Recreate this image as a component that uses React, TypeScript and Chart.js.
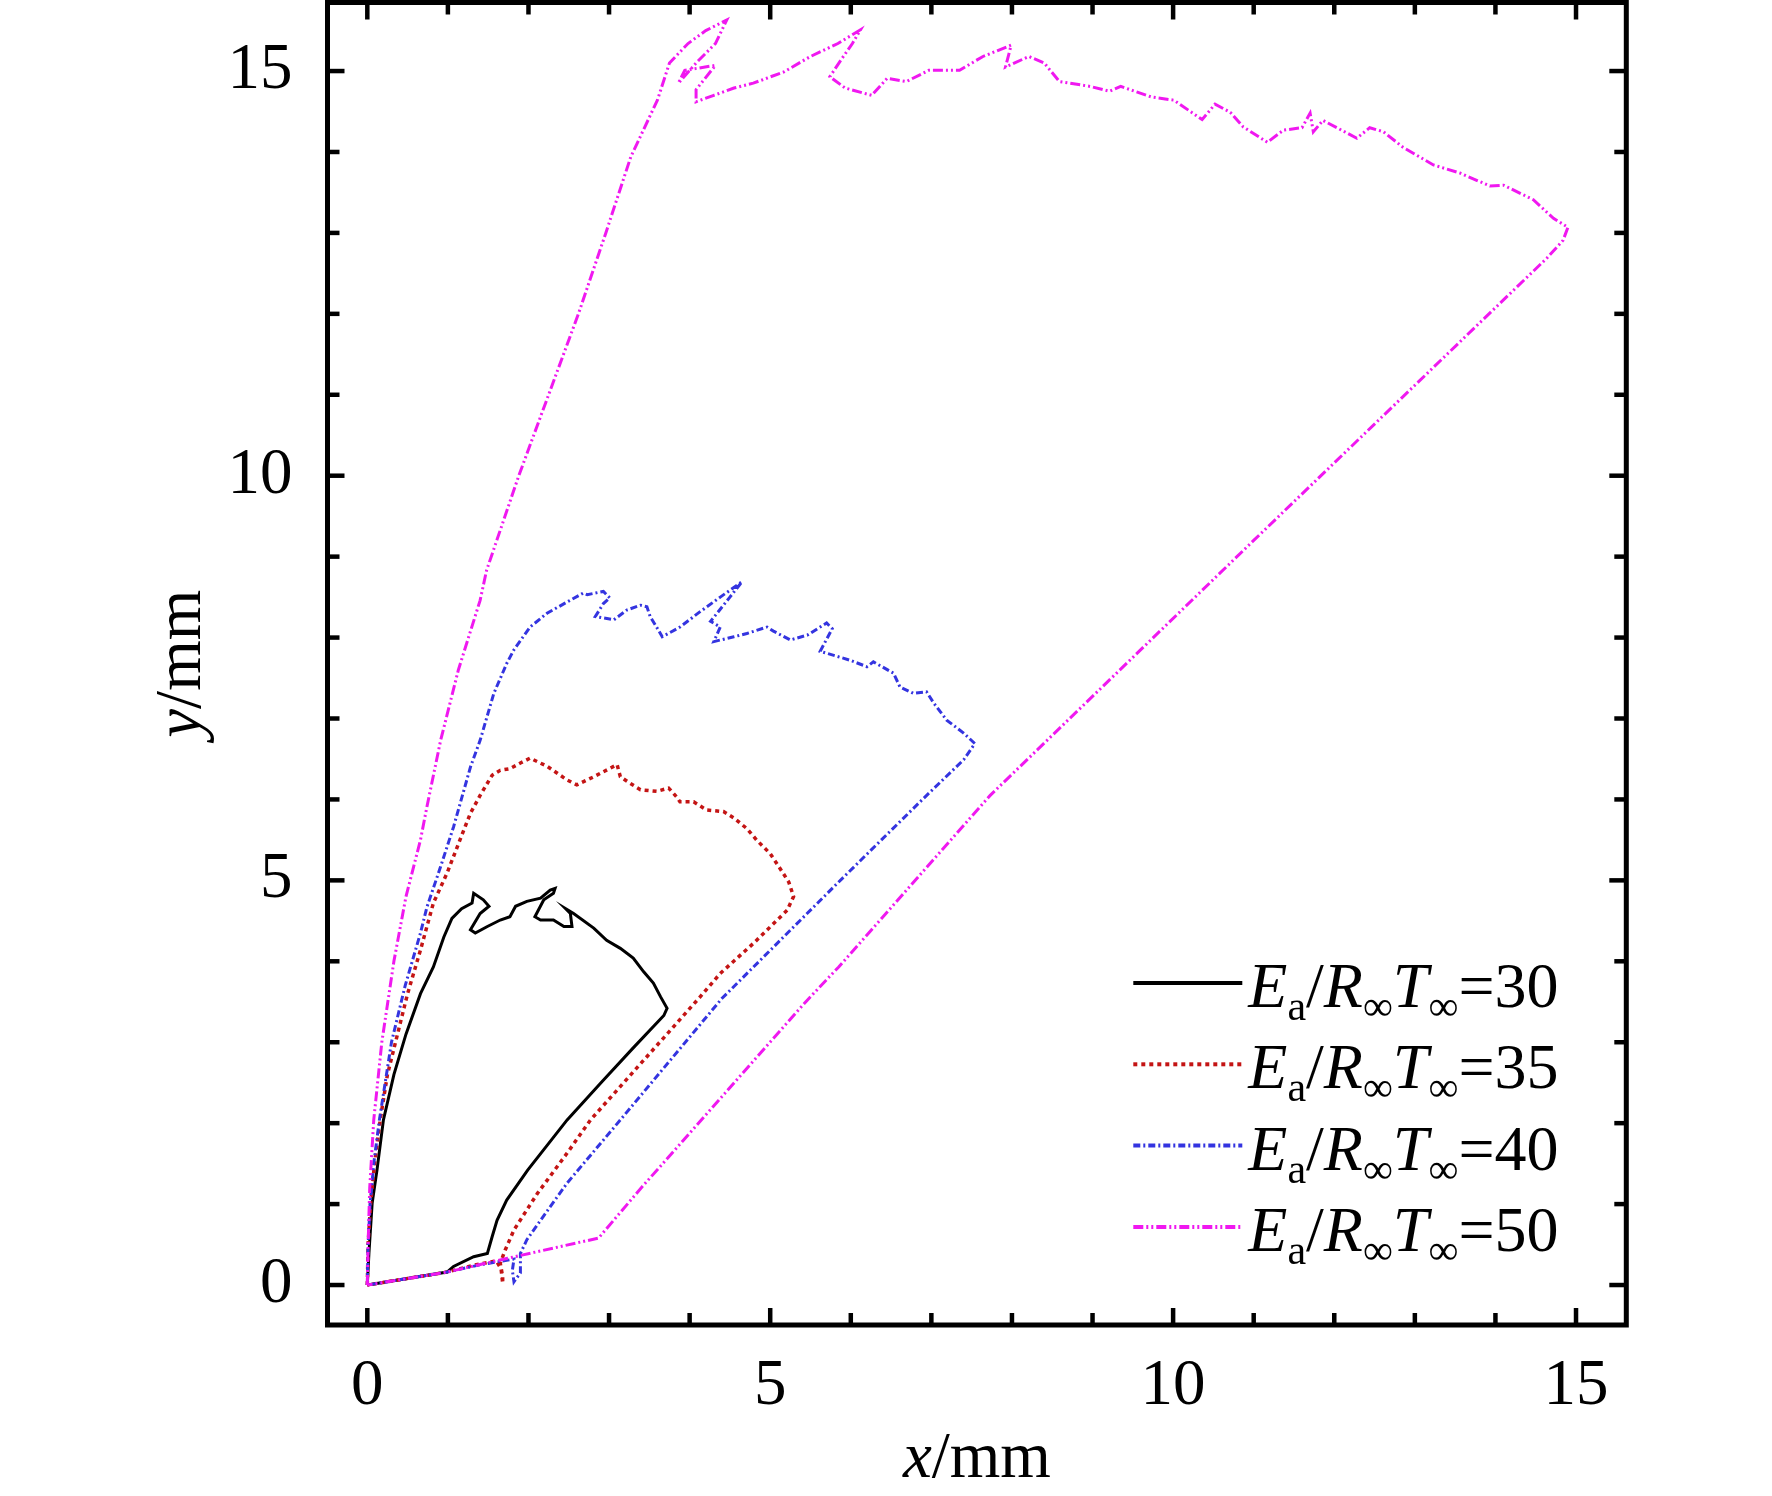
import React, { useEffect, useRef } from "react";
import { Chart, registerables } from "chart.js";

Chart.register(...registerables);

const FONT = "'Liberation Serif', 'Times New Roman', Times, serif";

// ---- data (x/mm, y/mm) ----
const seriesValues = ["30", "35", "40", "50"];
const seriesColors = ["#000000", "#c41414", "#3434e0", "#f018f0"];

const curve30: [number, number][] = [
  [0, 0], [0.02, 0.39], [0.06, 1.01], [0.12, 1.42], [0.2, 2.04], [0.33, 2.6], [0.48, 3.1],
  [0.66, 3.6], [0.82, 3.93], [0.95, 4.3], [1.05, 4.53], [1.17, 4.65], [1.3, 4.72], [1.32, 4.84],
  [1.44, 4.76], [1.51, 4.68], [1.4, 4.59], [1.28, 4.39], [1.34, 4.35], [1.49, 4.43], [1.65, 4.51],
  [1.77, 4.55], [1.84, 4.68], [1.98, 4.74], [2.15, 4.78], [2.27, 4.88], [2.33, 4.9], [2.31, 4.84],
  [2.19, 4.76], [2.08, 4.55], [2.15, 4.51], [2.31, 4.51], [2.44, 4.43], [2.54, 4.43], [2.52, 4.59],
  [2.46, 4.65], [2.56, 4.59], [2.81, 4.41], [2.97, 4.26], [3.14, 4.16], [3.3, 4.04], [3.43, 3.87],
  [3.55, 3.73], [3.64, 3.56], [3.72, 3.42], [3.68, 3.33], [3.3, 2.93], [2.9, 2.5], [2.48, 2.04],
  [1.99, 1.42], [1.73, 1.05], [1.61, 0.8], [1.55, 0.6], [1.49, 0.39], [1.32, 0.35], [1.07, 0.23],
  [0.99, 0.16], [0, 0],
];

const curve35: [number, number][] = [
  [0, 0], [0.01, 0.5], [0.04, 1.0], [0.09, 1.5], [0.16, 2.04], [0.25, 2.6], [0.35, 3.0], [0.5, 3.6],
  [0.66, 4.14], [0.82, 4.72], [0.99, 5.09], [1.15, 5.5], [1.28, 5.83], [1.4, 6.05], [1.55, 6.3],
  [1.65, 6.36], [1.77, 6.38], [1.9, 6.45], [2.02, 6.51], [2.23, 6.41], [2.48, 6.24], [2.6, 6.18],
  [2.81, 6.28], [3.1, 6.43], [3.14, 6.28], [3.26, 6.2], [3.39, 6.12], [3.59, 6.1], [3.74, 6.14],
  [3.84, 6.03], [3.88, 5.97], [4.05, 5.97], [4.21, 5.87], [4.42, 5.85], [4.55, 5.77], [4.71, 5.64],
  [4.83, 5.5], [5.0, 5.33], [5.12, 5.15], [5.23, 4.98], [5.29, 4.8], [5.21, 4.63], [4.79, 4.22],
  [4.38, 3.85], [4.13, 3.56], [3.45, 2.8], [2.77, 2.04], [2.48, 1.63], [2.11, 1.13], [1.82, 0.68],
  [1.71, 0.43], [1.65, 0.27], [1.68, 0.1], [1.68, 0.02], [1.66, 0.2], [1.6, 0.3], [1.3, 0.24],
  [0.99, 0.16], [0, 0],
];

const curve40: [number, number][] = [
  [0, 0], [0.01, 0.5], [0.035, 1.0], [0.08, 1.5], [0.15, 2.04], [0.3, 3.0], [0.47, 3.7], [0.66, 4.35],
  [0.74, 4.67], [0.91, 5.17], [1.07, 5.66], [1.28, 6.4], [1.4, 6.73], [1.57, 7.31], [1.73, 7.68],
  [1.82, 7.85], [2.02, 8.13], [2.23, 8.3], [2.48, 8.44], [2.68, 8.55], [2.73, 8.53], [2.93, 8.57],
  [3.01, 8.49], [2.93, 8.42], [2.83, 8.26], [3.06, 8.22], [3.22, 8.34], [3.39, 8.4], [3.47, 8.38],
  [3.51, 8.26], [3.59, 8.13], [3.66, 8.01], [3.88, 8.13], [4.13, 8.32], [4.38, 8.5], [4.65, 8.69],
  [4.5, 8.5], [4.34, 8.3], [4.26, 8.2], [4.38, 8.13], [4.3, 7.95], [4.55, 8.01], [4.71, 8.05],
  [4.96, 8.13], [5.04, 8.08], [5.25, 7.97], [5.46, 8.03], [5.7, 8.18], [5.77, 8.11], [5.62, 7.83],
  [5.79, 7.78], [5.99, 7.72], [6.2, 7.64], [6.28, 7.7], [6.53, 7.56], [6.61, 7.39], [6.78, 7.31],
  [6.94, 7.33], [7.03, 7.19], [7.19, 6.98], [7.4, 6.82], [7.54, 6.69], [7.4, 6.49], [6.9, 6.01],
  [5.85, 4.98], [4.4, 3.54], [3.14, 2.04], [2.48, 1.26], [2.15, 0.8], [1.98, 0.56], [1.9, 0.39],
  [1.9, 0.15], [1.82, 0.04], [1.8, 0.18], [1.82, 0.32], [1.4, 0.25], [0.99, 0.16], [0, 0],
];

const curve50: [number, number][] = [
  [0, 0], [0.01, 0.5], [0.03, 1.2], [0.08, 2.04], [0.18, 3.0], [0.33, 4.0], [0.48, 4.8], [0.66, 5.5],
  [0.74, 5.91], [0.91, 6.73], [1.13, 7.6], [1.4, 8.46], [1.48, 8.83], [1.88, 10.0], [2.25, 11.0],
  [2.62, 12.0], [2.96, 13.0], [3.27, 13.94], [3.6, 14.64], [3.75, 15.1], [3.98, 15.34], [4.2, 15.5],
  [4.46, 15.63], [4.32, 15.34], [4.08, 15.1], [3.86, 14.85], [3.94, 15.01], [4.32, 15.07],
  [4.08, 14.77], [4.08, 14.62], [4.3, 14.7], [4.55, 14.79], [4.79, 14.85], [5.17, 14.99],
  [5.5, 15.18], [5.84, 15.34], [6.12, 15.51], [6.02, 15.34], [5.88, 15.14], [5.74, 14.93],
  [5.93, 14.79], [6.26, 14.7], [6.45, 14.91], [6.69, 14.87], [6.97, 15.01], [7.35, 15.01],
  [7.64, 15.18], [7.99, 15.32], [7.92, 15.05], [8.21, 15.18], [8.4, 15.1], [8.59, 14.87],
  [8.97, 14.81], [9.21, 14.75], [9.35, 14.81], [9.73, 14.68], [10.01, 14.64], [10.36, 14.4],
  [10.52, 14.59], [10.71, 14.49], [10.87, 14.31], [11.17, 14.12], [11.37, 14.27], [11.6, 14.3],
  [11.7, 14.48], [11.74, 14.25], [11.86, 14.39], [12.28, 14.17], [12.44, 14.3], [12.61, 14.25],
  [12.85, 14.06], [13.23, 13.84], [13.56, 13.74], [13.93, 13.58], [14.1, 13.59], [14.47, 13.41],
  [14.72, 13.18], [14.9, 13.07], [14.84, 12.91], [14.64, 12.69], [11.0, 9.2], [7.73, 6.05],
  [5.85, 3.93], [5.46, 3.52], [3.39, 1.19], [2.87, 0.58], [1.74, 0.33], [0.99, 0.16], [0, 0],
];

const curves = [curve30, curve35, curve40, curve50];
const dashPatterns: number[][] = [[], [4, 4], [7, 3, 2, 3], [10, 3, 2, 3, 2, 3]];
const lineWidths = [3, 3.5, 3, 3];

const xRange = [-0.494, 15.624];
const yRange = [-0.494, 15.847];
const tickLabelValues = [0, 5, 10, 15];
const tickMarkValues = [0, 1, 2, 3, 4, 5, 6, 7, 8, 9, 10, 11, 12, 13, 14, 15];

type Seg = { t: string; italic?: boolean; sub?: boolean };

function drawRich(ctx: CanvasRenderingContext2D, segs: Seg[], x: number, y: number, size: number, subSize: number, subDrop: number) {
  let cx = x;
  for (const s of segs) {
    const fs = s.sub ? subSize : size;
    ctx.font = `${s.italic ? "italic " : ""}${fs}px ${FONT}`;
    ctx.fillText(s.t, cx, s.sub ? y + subDrop : y);
    cx += ctx.measureText(s.t).width;
  }
  return cx - x;
}

function measureRich(ctx: CanvasRenderingContext2D, segs: Seg[], size: number, subSize: number) {
  let w = 0;
  for (const s of segs) {
    const fs = s.sub ? subSize : size;
    ctx.font = `${s.italic ? "italic " : ""}${fs}px ${FONT}`;
    w += ctx.measureText(s.t).width;
  }
  return w;
}

const framePlugin = {
  id: "frameAndText",
  afterDraw(chart: any) {
    const { ctx, chartArea: a, scales } = chart;
    const xs = scales.x;
    const ys = scales.y;
    ctx.save();
    ctx.strokeStyle = "#000";
    ctx.lineCap = "butt";
    ctx.lineWidth = 4.5;
    const ln = (x1: number, y1: number, x2: number, y2: number) => {
      ctx.beginPath();
      ctx.moveTo(x1, y1);
      ctx.lineTo(x2, y2);
      ctx.stroke();
    };
    for (const v of tickMarkValues) {
      const len = v % 5 === 0 ? 17 : 12;
      const px = xs.getPixelForValue(v);
      ln(px, a.bottom, px, a.bottom - len);
      ln(px, a.top, px, a.top + len);
      const py = ys.getPixelForValue(v);
      ln(a.left, py, a.left + len, py);
      ln(a.right, py, a.right - len, py);
    }
    ctx.lineWidth = 5;
    ctx.strokeRect(a.left, a.top, a.right - a.left, a.bottom - a.top);

    // axis titles
    ctx.fillStyle = "#000";
    ctx.textBaseline = "alphabetic";
    ctx.textAlign = "left";
    const xt: Seg[] = [{ t: "x", italic: true }, { t: "/mm" }];
    const xw = measureRich(ctx, xt, 65, 65);
    drawRich(ctx, xt, (a.left + a.right) / 2 - xw / 2, a.bottom + 152, 65, 65, 0);
    const yt: Seg[] = [{ t: "y", italic: true }, { t: "/mm" }];
    const yw = measureRich(ctx, yt, 65, 65);
    ctx.save();
    ctx.translate(a.left - 127.5, (a.top + a.bottom) / 2);
    ctx.rotate(-Math.PI / 2);
    drawRich(ctx, yt, -yw / 2, 0, 65, 65, 0);
    ctx.restore();

    // legend
    const lx1 = a.right - 493;
    const lx2 = a.right - 384;
    const tx = a.right - 378;
    for (let i = 0; i < seriesValues.length; i++) {
      const ry = a.bottom - 342 + i * 81.3;
      ctx.save();
      ctx.strokeStyle = seriesColors[i];
      ctx.lineWidth = 4;
      ctx.setLineDash(dashPatterns[i]);
      ln(lx1, ry, lx2, ry);
      ctx.restore();
      ctx.fillStyle = "#000";
      const segs: Seg[] = [
        { t: "E", italic: true },
        { t: "a", sub: true },
        { t: "/" },
        { t: "R", italic: true },
        { t: "\u221E", sub: true },
        { t: "T", italic: true },
        { t: "\u221E", sub: true },
        { t: "=" + seriesValues[i] },
      ];
      drawRich(ctx, segs, tx, ry + 24, 64, 42, 13);
    }
    ctx.restore();
  },
};

const zeroPadding = (s: any) => {
  s.paddingTop = 0;
  s.paddingBottom = 0;
  s.paddingLeft = 0;
  s.paddingRight = 0;
};

export default function App() {
  const ref = useRef<HTMLCanvasElement | null>(null);
  useEffect(() => {
    if (!ref.current) return;
    const datasets = curves.map((c, i) => ({
      label: "Ea/R\u221ET\u221E=" + seriesValues[i],
      data: c.map(([x, y]) => ({ x, y })),
      showLine: true,
      borderColor: seriesColors[i],
      backgroundColor: seriesColors[i],
      borderWidth: lineWidths[i],
      borderDash: dashPatterns[i],
      pointRadius: 0,
      pointHoverRadius: 0,
      tension: 0,
      fill: false,
      order: 4 - i,
    }));
    const chart = new Chart(ref.current, {
      type: "scatter",
      data: { datasets },
      options: {
        animation: false,
        responsive: false,
        events: [],
        layout: { padding: { left: 0, top: 2.5, right: 145.7, bottom: 71 } },
        plugins: { legend: { display: false }, tooltip: { enabled: false }, title: { display: false } },
        scales: {
          x: {
            type: "linear",
            min: xRange[0],
            max: xRange[1],
            grid: { display: false },
            border: { display: false },
            afterFit: (s: any) => { s.height = 100; zeroPadding(s); },
            afterBuildTicks: (s: any) => { s.ticks = tickLabelValues.map((v) => ({ value: v })); },
            ticks: {
              autoSkip: false,
              maxRotation: 0,
              padding: 15,
              color: "#000",
              font: { family: FONT, size: 65 },
              callback: (v: any) => String(v),
            },
          },
          y: {
            type: "linear",
            min: yRange[0],
            max: yRange[1],
            grid: { display: false },
            border: { display: false },
            afterFit: (s: any) => { s.width = 327.5; zeroPadding(s); },
            afterBuildTicks: (s: any) => { s.ticks = tickLabelValues.map((v) => ({ value: v })); },
            ticks: {
              autoSkip: false,
              padding: 27,
              color: "#000",
              font: { family: FONT, size: 65 },
              callback: (v: any) => String(v),
            },
          },
        },
      },
      plugins: [framePlugin],
    });
    return () => chart.destroy();
  }, []);
  return (
    <div style={{ position: "absolute", left: 0, top: 0, width: 1772, height: 1496, background: "#fff" }}>
      <canvas ref={ref} width={1772} height={1496} style={{ display: "block", width: 1772, height: 1496 }} />
    </div>
  );
}
